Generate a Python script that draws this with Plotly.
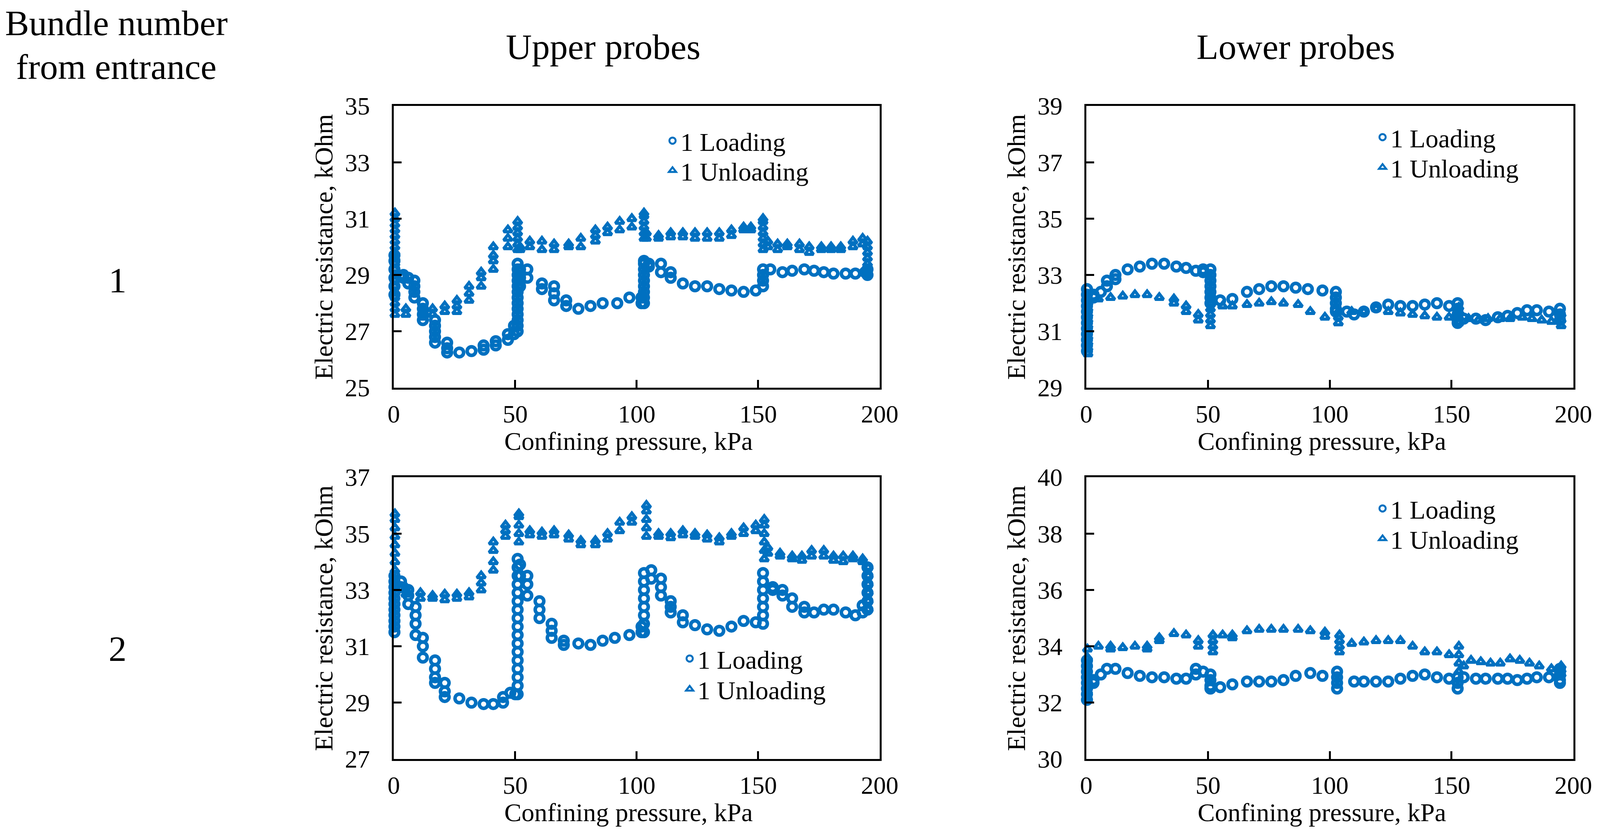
import plotly.graph_objects as go


# -------------------------
# DATA  (pressure kPa, resistance kOhm)
# -------------------------
x_ticks = [0, 50, 100, 150, 200]

# bundle 1, upper probes
up1_loading = [
    (0.3, 28.3), (0.3, 28.6), (0.3, 28.9), (0.3, 29.2), (0.3, 29.5), (0.3, 29.7),
    (4, 29.0), (4, 28.9), (6, 28.9), (6, 28.7), (8.5, 28.8), (8.5, 28.6), (8.5, 28.4), (8.5, 28.2),
    (12, 28.0), (12, 27.8), (12, 27.6), (12, 27.4), (17, 27.4), (17, 27.2), (17, 27.0), (17, 26.8), (17, 26.6),
    (22, 26.6), (22, 26.4), (22, 26.25), (27, 26.25), (32, 26.3), (37, 26.5), (37, 26.35),
    (42, 26.65), (42, 26.5), (47, 26.9), (47, 26.7), (49.5, 27.2), (49.5, 26.9),
    (51, 27.0), (51, 27.2), (51, 27.4), (51, 27.6), (51, 27.8), (51, 28.0), (51, 28.2), (51, 28.4),
    (51, 28.6), (51, 28.8), (51, 29.0), (51, 29.2), (51, 29.4), (52, 28.6), (52, 28.9), (52, 29.2),
    (55, 29.2), (55, 28.9), (61, 28.7), (61, 28.5), (66, 28.6), (66, 28.35), (66, 28.1),
    (71, 28.1), (71, 27.9), (76, 27.8), (81, 27.9), (86, 28.0), (92, 28.0), (97, 28.2), (102, 28.2), (102, 28.0),
    (103, 28.0), (103, 28.2), (103, 28.4), (103, 28.6), (103, 28.8), (103, 29.0), (103, 29.2), (103, 29.4), (103, 29.5),
    (105, 29.4), (105, 29.3), (110, 29.4), (110, 29.1), (114, 29.1), (114, 28.9), (119, 28.7), (124, 28.6),
    (129, 28.6), (134, 28.5), (139, 28.45), (144, 28.4), (149, 28.45),
    (152, 28.6), (152, 28.8), (152, 29.0), (152, 29.2),
    (155, 29.2), (160, 29.1), (164, 29.15), (169, 29.2), (173, 29.15), (177, 29.1), (181, 29.05),
    (186, 29.05), (190, 29.05), (194, 29.1), (195, 29.0), (195, 29.2),
]
up1_unloading = [
    (195, 29.0), (195, 29.2), (195, 29.4), (195, 29.6), (195, 29.8), (195, 30.0), (195, 30.2),
    (193, 30.3), (193, 30.1), (189, 30.2), (189, 30.0), (184, 30.0), (184, 29.9), (180, 30.0), (180, 29.9),
    (176, 30.0), (176, 29.9), (171, 30.0), (171, 29.8), (167, 30.1), (167, 29.9), (162, 30.1), (162, 30.0),
    (158, 30.1), (158, 29.9), (154, 30.2), (154, 30.0),
    (152, 29.9), (152, 30.1), (152, 30.3), (152, 30.5), (152, 30.7), (152, 30.9), (152, 31.0),
    (147, 30.7), (147, 30.6), (144, 30.7), (144, 30.6), (139, 30.6), (139, 30.4), (134, 30.5), (134, 30.3),
    (129, 30.5), (129, 30.3), (124, 30.5), (124, 30.3), (119, 30.5), (119, 30.35), (114, 30.5), (114, 30.35),
    (109, 30.4), (109, 30.3), (104, 30.5), (104, 30.3),
    (103, 30.3), (103, 30.5), (103, 30.7), (103, 30.9), (103, 31.1), (103, 31.2),
    (98, 31.0), (98, 30.7), (93, 30.9), (93, 30.6), (88, 30.7), (88, 30.5), (83, 30.6), (83, 30.4), (83, 30.2),
    (77, 30.3), (77, 30.0), (72, 30.1), (72, 30.0), (66, 30.1), (66, 29.9), (61, 30.2), (61, 29.9),
    (56, 30.2), (56, 30.0), (52, 30.0), (52, 29.9),
    (51, 29.9), (51, 30.1), (51, 30.3), (51, 30.5), (51, 30.7), (51, 30.9),
    (47, 30.6), (47, 30.3), (47, 30.0), (41, 30.0), (41, 29.7), (41, 29.5), (41, 29.2),
    (36, 29.1), (36, 28.9), (36, 28.6), (31, 28.6), (31, 28.35), (31, 28.1), (26, 28.1), (26, 27.9), (26, 27.7),
    (21, 27.9), (21, 27.7), (16, 27.8), (16, 27.6), (12, 27.7), (12, 27.5), (5, 27.8), (5, 27.6),
    (0.5, 27.6), (0.5, 27.8), (0.5, 28.0), (0.5, 28.2), (0.5, 28.4), (0.5, 28.6), (0.5, 28.8), (0.5, 29.0),
    (0.5, 29.2), (0.5, 29.4), (0.5, 29.6), (0.5, 29.8), (0.5, 30.0), (0.5, 30.2), (0.5, 30.4), (0.5, 30.6),
    (0.5, 30.8), (0.5, 31.0), (0.5, 31.2),
]

# bundle 1, lower probes
low1_loading = [
    (0.3, 30.3), (0.3, 30.5), (0.3, 30.7), (0.3, 30.9), (0.3, 31.1), (0.3, 31.3), (0.3, 31.5), (0.3, 31.7),
    (0.3, 31.9), (0.3, 32.1), (0.3, 32.3), (0.3, 32.5),
    (3, 32.3), (3, 32.2), (6, 32.4), (8.5, 32.8), (8.5, 32.6), (12, 33.0), (12, 32.85), (17, 33.2), (22, 33.3),
    (27, 33.4), (32, 33.4), (37, 33.3), (41, 33.25), (45, 33.15), (48, 33.2), (48, 33.1),
    (51, 33.2), (51, 33.0), (51, 32.8), (51, 32.6), (51, 32.4), (51, 32.2), (51, 32.0),
    (55, 32.1), (60, 32.15), (66, 32.4), (71, 32.5), (76, 32.6), (81, 32.6), (86, 32.55), (91, 32.5), (97, 32.45),
    (102.5, 32.4), (102.5, 32.2), (102.5, 32.0), (102.5, 31.8), (102.5, 31.7),
    (107, 31.7), (110, 31.6), (114, 31.7), (119, 31.85), (124, 31.95), (129, 31.9), (134, 31.9), (139, 31.95),
    (144, 32.0), (149, 31.9),
    (152.5, 32.0), (152.5, 31.8), (152.5, 31.6), (152.5, 31.4), (152.5, 31.3),
    (155, 31.45), (160, 31.45), (164, 31.4), (169, 31.5), (173, 31.55), (177, 31.65), (181, 31.75),
    (185, 31.75), (190, 31.7), (194.5, 31.8), (194.5, 31.6), (194.5, 31.4),
]
low1_unloading = [
    (195, 31.2), (195, 31.4), (195, 31.6),
    (191, 31.35), (187, 31.4), (183, 31.45), (179, 31.5), (174, 31.45), (170, 31.45), (165, 31.45),
    (161, 31.4), (157, 31.45),
    (153, 31.3), (153, 31.5), (153, 31.7), (153, 31.85),
    (149, 31.5), (144, 31.5), (139, 31.55), (134, 31.6), (129, 31.65), (124, 31.7), (119, 31.8), (114, 31.7),
    (109, 31.7), (103.5, 31.3), (103.5, 31.5), (103.5, 31.7),
    (98, 31.5), (92, 31.7), (87, 31.95), (81, 32.0), (76, 32.05), (71, 32.0), (66, 31.95), (60, 31.9), (56, 31.9),
    (51, 31.2), (51, 31.4), (51, 31.6), (51, 31.8), (51, 32.0), (51, 32.2),
    (46, 31.6), (46, 31.4), (41, 31.9), (41, 31.7), (36, 32.15), (36, 32.0), (30, 32.2), (25, 32.3),
    (20, 32.3), (15, 32.25), (10, 32.2), (5, 32.15),
    (0.7, 30.2), (0.7, 30.4), (0.7, 30.6), (0.7, 30.8), (0.7, 31.0), (0.7, 31.2), (0.7, 31.4), (0.7, 31.6),
    (0.7, 31.8), (0.7, 32.0), (0.7, 32.2),
]

# bundle 2, upper probes
up2_loading = [
    (0.3, 31.5), (0.3, 31.7), (0.3, 31.9), (0.3, 32.1), (0.3, 32.3), (0.3, 32.5), (0.3, 32.7), (0.3, 32.9),
    (0.3, 33.1), (0.3, 33.3), (0.3, 33.5),
    (3, 33.3), (3, 33.1), (6, 33.0), (6, 32.8), (6, 32.5), (9, 32.4), (9, 32.1), (9, 31.8), (9, 31.4),
    (12, 31.3), (12, 31.0), (12, 30.6), (17, 30.5), (17, 30.2), (17, 29.9), (17, 29.7),
    (21, 29.7), (21, 29.4), (21, 29.2), (27, 29.15), (32, 29.0), (37, 28.95), (41, 28.95),
    (45, 29.2), (45, 29.0), (48, 29.35), (50, 29.3),
    (51, 29.3), (51, 29.6), (51, 29.9), (51, 30.2), (51, 30.5), (51, 30.8), (51, 31.1), (51, 31.4), (51, 31.7),
    (51, 32.0), (51, 32.3), (51, 32.6), (51, 32.9), (51, 33.2), (51, 33.5), (51, 33.8), (51, 34.1),
    (52, 33.9), (52, 33.5), (55, 33.5), (55, 33.2), (55, 32.8), (60, 32.6), (60, 32.3), (60, 32.0),
    (65, 31.8), (65, 31.55), (65, 31.3), (70, 31.2), (70, 31.05), (76, 31.1), (81, 31.05), (86, 31.2),
    (91, 31.3), (97, 31.4), (102, 31.7), (102, 31.5),
    (103, 31.5), (103, 31.8), (103, 32.1), (103, 32.4), (103, 32.7), (103, 33.0), (103, 33.3), (103, 33.6),
    (106, 33.7), (106, 33.4), (110, 33.4), (110, 33.1), (110, 32.8), (114, 32.6), (114, 32.4), (114, 32.2),
    (119, 32.1), (119, 31.85), (124, 31.75), (129, 31.6), (134, 31.55), (139, 31.7), (144, 31.9), (149, 31.85),
    (152, 31.8), (152, 32.1), (152, 32.4), (152, 32.7), (152, 33.0), (152, 33.3), (152, 33.6),
    (156, 33.1), (156, 33.0), (160, 33.0), (160, 32.8), (164, 32.7), (164, 32.4), (169, 32.4), (169, 32.2),
    (173, 32.2), (177, 32.3), (181, 32.3), (186, 32.2), (190, 32.1), (193, 32.2), (193, 32.45),
    (195, 32.3), (195, 32.6), (195, 32.9), (195, 33.2), (195, 33.5), (195, 33.8),
]
up2_unloading = [
    (195.3, 32.3), (195.3, 32.6), (195.3, 32.9), (195.3, 33.2), (195.3, 33.5), (195.3, 33.8),
    (193, 34.1), (193, 34.0), (189, 34.2), (189, 34.1), (185, 34.2), (185, 34.0), (181, 34.2), (181, 34.05),
    (177, 34.4), (177, 34.2), (172, 34.4), (172, 34.2), (168, 34.2), (168, 34.05), (164, 34.2), (164, 34.1),
    (159, 34.3), (159, 34.2), (154, 34.3), (154, 34.5),
    (152.5, 34.1), (152.5, 34.4), (152.5, 34.7), (152.5, 35.0), (152.5, 35.3), (152.5, 35.5),
    (149, 35.3), (149, 35.1), (144, 35.2), (144, 35.0), (139, 35.0), (139, 34.9), (134, 34.85), (134, 34.7),
    (129, 34.95), (129, 34.8), (124, 35.0), (124, 34.9), (119, 35.1), (119, 34.95), (114, 35.0), (114, 34.85),
    (109, 35.0), (109, 34.9),
    (104, 34.9), (104, 35.2), (104, 35.5), (104, 35.8), (104, 36.0),
    (98, 35.6), (98, 35.4), (93, 35.4), (93, 35.1), (88, 35.0), (88, 34.8), (83, 34.75), (83, 34.6),
    (77, 34.75), (77, 34.6), (72, 34.95), (72, 34.8), (66, 35.1), (66, 34.95), (61, 35.05), (61, 34.9),
    (56, 35.1), (56, 34.95),
    (51.5, 34.7), (51.5, 35.0), (51.5, 35.3), (51.5, 35.6), (51.5, 35.7),
    (46, 35.3), (46, 35.1), (46, 34.9), (41, 34.7), (41, 34.4), (41, 34.0), (41, 33.7),
    (36, 33.5), (36, 33.25), (36, 33.0), (31, 32.9), (31, 32.75), (26, 32.85), (26, 32.7),
    (21, 32.85), (21, 32.65), (16, 32.8), (16, 32.7), (11, 32.9), (11, 32.7), (5, 33.1), (5, 32.85),
    (0.5, 33.1), (0.5, 33.4), (0.5, 33.7), (0.5, 34.0), (0.5, 34.3), (0.5, 34.6), (0.5, 34.9), (0.5, 35.2),
    (0.5, 35.5), (0.5, 35.7),
]

# bundle 2, lower probes
low2_loading = [
    (0.3, 32.1), (0.3, 32.3), (0.3, 32.5), (0.3, 32.7), (0.3, 32.9), (0.3, 33.1), (0.3, 33.3), (0.3, 33.5),
    (3, 32.8), (3, 32.7), (6, 33.0), (8.5, 33.2), (12, 33.2), (17, 33.05), (22, 32.95), (27, 32.9), (32, 32.9),
    (37, 32.85), (41, 32.85), (45, 33.2), (45, 33.0), (48, 33.1),
    (51, 33.0), (51, 32.8), (51, 32.6), (51, 32.5),
    (55, 32.55), (60, 32.65), (66, 32.75), (71, 32.75), (76, 32.75), (81, 32.8), (86, 32.95), (92, 33.05), (97, 32.95),
    (103, 33.1), (103, 32.9), (103, 32.7), (103, 32.5),
    (110, 32.75), (114, 32.75), (119, 32.75), (124, 32.75), (129, 32.85), (134, 32.95), (139, 33.0),
    (144, 32.9), (149, 32.85),
    (152.5, 32.9), (152.5, 32.7), (152.5, 32.5),
    (155, 32.9), (160, 32.85), (164, 32.85), (169, 32.85), (173, 32.85), (177, 32.8), (181, 32.85),
    (185, 32.9), (190, 32.9), (194.5, 33.2), (194.5, 33.0), (194.5, 32.8), (194.5, 32.7),
]
low2_unloading = [
    (195, 33.0), (195, 33.15), (195, 33.3),
    (191, 33.2), (186, 33.3), (182, 33.4), (178, 33.5), (174, 33.55), (170, 33.4), (166, 33.4), (162, 33.45),
    (158, 33.5), (155, 33.3),
    (153, 33.1), (153, 33.4), (153, 33.7), (153, 34.0),
    (149, 33.7), (144, 33.8), (139, 33.8), (134, 34.0), (129, 34.2), (124, 34.2), (119, 34.2), (114, 34.15),
    (109, 34.1), (104, 33.8), (104, 34.0), (104, 34.2), (104, 34.4),
    (98, 34.5), (98, 34.35), (92, 34.55), (87, 34.6), (81, 34.6), (76, 34.6), (71, 34.6), (66, 34.55),
    (60, 34.4), (60, 34.3), (56, 34.4),
    (52, 33.8), (52, 34.0), (52, 34.2), (52, 34.4),
    (46, 34.2), (46, 34.0), (41, 34.4), (36, 34.45), (30, 34.3), (30, 34.2), (25, 34.0), (25, 33.9),
    (20, 34.0), (15, 33.95), (10, 34.0), (10, 33.9), (5, 34.0),
    (0.5, 32.1), (0.5, 32.4), (0.5, 32.7), (0.5, 33.0), (0.5, 33.3), (0.5, 33.6), (0.5, 33.9),
]

y_ranges = [[25, 35], [29, 39], [27, 37], [30, 40]]
y_dtick = 2
series_names = ["1 Loading", "1 Unloading"]
row_labels = ["1", "2"]
col_labels = ["Upper probes", "Lower probes"]
x_title = "Confining pressure, kPa"
y_title = "Electric resistance, kOhm"


# -------------------------
# STYLE / LAYOUT (pixel positions measured on the 4198 x 2139 reference)
# -------------------------
BLUE = "#0070C0"
FONT = "Liberation Serif"
W, H = 4198, 2139

x_px = [(1033, 2308), (2850, 4128), (1033, 2308), (2850, 4128)]
y_px = [(271, 992), (271, 992), (1221, 1942), (1221, 1942)]
# legend marker centres (loading, unloading)
legend_px = [
    ((1752, 360), (1752, 436)),
    ((3615, 351), (3615, 428)),
    ((1797, 1685), (1797, 1763)),
    ((3615, 1301), (3615, 1378)),
]


def px_x(v):
    return v / W


def px_y(v):
    return 1 - v / H


def add_series(fig, pts, name, symbol, size, lw, axis_suffix, legend_id):
    fig.add_trace(go.Scatter(
        x=[p[0] for p in pts], y=[p[1] for p in pts],
        mode="markers", name=name,
        xaxis="x" + axis_suffix, yaxis="y" + axis_suffix,
        legend=legend_id, showlegend=True,
        cliponaxis=False,
        marker=dict(symbol=symbol, size=size, color=BLUE, line=dict(width=lw, color=BLUE)),
    ))


fig = go.Figure()

panels = [
    (up1_loading, up1_unloading),
    (low1_loading, low1_unloading),
    (up2_loading, up2_unloading),
    (low2_loading, low2_unloading),
]

# the figure fills the browser window, so nothing runs past its right edge
layout = dict(
    autosize=True,
    margin=dict(l=0, r=0, t=0, b=0, autoexpand=False),
    paper_bgcolor="white", plot_bgcolor="white",
    font=dict(family=FONT, size=64, color="black"),
    showlegend=True,
)

axis_common = dict(
    showline=True, mirror=True, linecolor="black", linewidth=5,
    ticks="inside", ticklen=20, tickwidth=5, tickcolor="black",
    showgrid=False, zeroline=False, automargin=False,
    tickfont=dict(family=FONT, size=64, color="black"),
)

title_font = dict(family=FONT, size=66, color="black")

for i, (load, unload) in enumerate(panels):
    sfx = "" if i == 0 else str(i + 1)
    leg_a = "legend" if i == 0 else "legend" + str(2 * i + 1)
    leg_b = "legend" + str(2 * i + 2)

    add_series(fig, load, series_names[0], "circle-open", 22, 9, sfx, leg_a)
    add_series(fig, unload, series_names[1], "triangle-up-open", 19, 8, sfx, leg_b)

    x0, x1 = x_px[i]
    y0, y1 = y_px[i]
    layout["xaxis" + sfx] = dict(
        axis_common,
        domain=[px_x(x0), px_x(x1)], anchor="y" + sfx,
        range=[0, 200], tickvals=x_ticks, ticklabelstandoff=7,
    )
    layout["yaxis" + sfx] = dict(
        axis_common,
        domain=[px_y(y1), px_y(y0)], anchor="x" + sfx,
        range=y_ranges[i], tick0=y_ranges[i][0], dtick=y_dtick, ticklabelstandoff=43,
    )

    for leg_id, (mx, my) in zip((leg_a, leg_b), legend_px[i]):
        layout[leg_id] = dict(
            x=px_x(mx - 8), y=px_y(my), xanchor="left", yanchor="middle",
            bgcolor="rgba(0,0,0,0)", borderwidth=0, visible=True,
            font=dict(family=FONT, size=66, color="black"),
        )

fig.update_layout(**layout)

# axis titles
for i in range(4):
    x0, x1 = x_px[i]
    y0, y1 = y_px[i]
    fig.add_annotation(text=x_title, x=px_x((x0 + x1) / 2 - 21), y=px_y(y1 + 136),
                       xref="paper", yref="paper", xanchor="center", yanchor="middle",
                       showarrow=False, font=title_font)
    fig.add_annotation(text=y_title, x=px_x(x0 - 184), y=px_y((y0 + y1) / 2),
                       xref="paper", yref="paper", xanchor="center", yanchor="middle",
                       textangle=-90, showarrow=False, font=title_font)

# -------------------------
# ROW / COLUMN LABELS
# -------------------------
label_font = dict(family=FONT, size=92, color="black")
labels = [
    ("Bundle number", 305, 59),
    ("from entrance", 305, 171),
    (col_labels[0], 1582, 120),
    (col_labels[1], 3400, 120),
    (row_labels[0], 308, 717),
    (row_labels[1], 308, 1660),
]
for text, lx, ly in labels:
    fig.add_annotation(text=text, x=px_x(lx), y=px_y(ly), xref="paper", yref="paper",
                       xanchor="center", yanchor="middle", showarrow=False, font=label_font)

fig.write_html(
    "out.html",
    default_width="100vw",
    default_height="100vh",
    config={"displayModeBar": False},
    post_script="document.body.style.margin='0';document.body.style.overflow='hidden';",
)
